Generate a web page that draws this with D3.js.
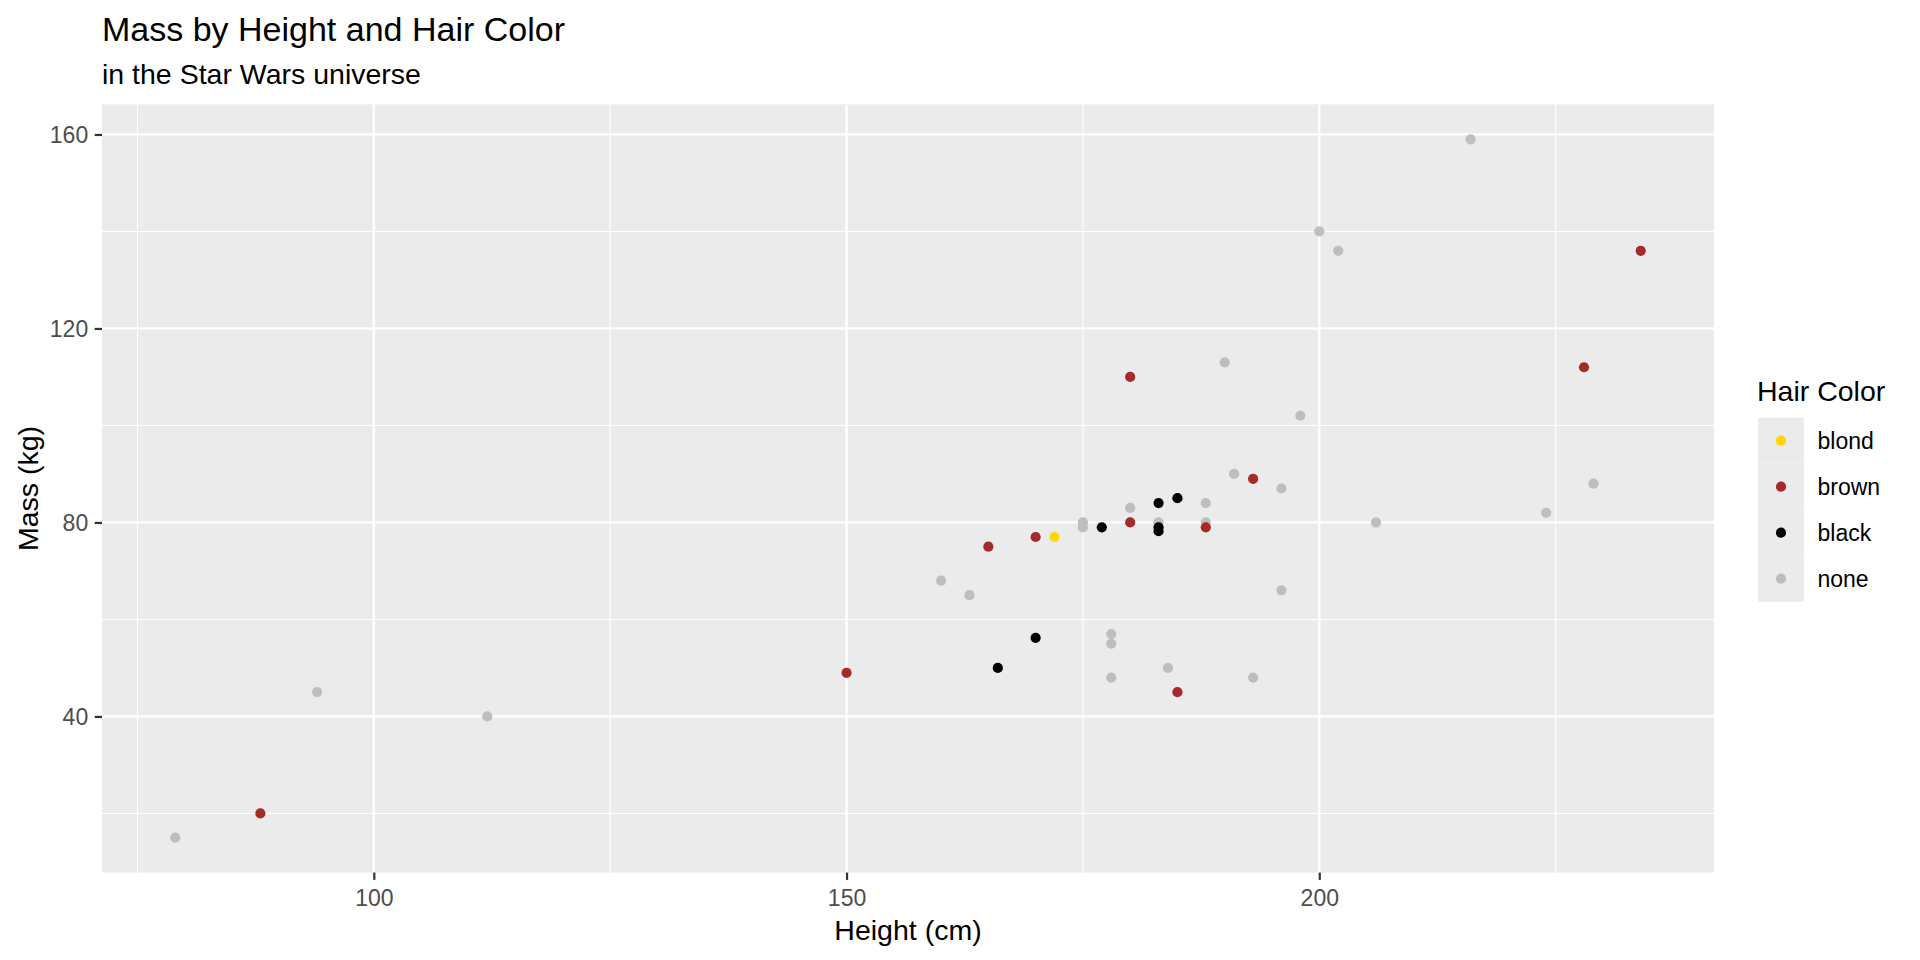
<!DOCTYPE html>
<html><head><meta charset="utf-8">
<script src="https://cdn.jsdelivr.net/npm/d3@7"></script>
<style>
body{margin:0;background:#fff}
text{font-family:"Liberation Sans",Arial,sans-serif}
</style>
</head><body>
<svg id="chart" width="1920" height="960"></svg>
<script>
// ---- data ----
const hairColors = ["blond", "brown", "black", "none"];
const hairFill = ["#FFD700", "#A52A2A", "#000000", "#BEBEBE"];

const blondHeight = [172];
const blondMass   = [77];

const brownHeight = [88, 150, 165, 170, 180, 180, 185, 188, 193, 228, 234];
const brownMass   = [20, 49, 75, 77, 80, 110, 45, 79, 89, 112, 136];

const blackHeight = [166, 170, 177, 183, 183, 183, 185];
const blackMass   = [50, 56.2, 79, 84, 79, 78.2, 85];

const noneHeight = [79, 94, 112, 160, 163, 175, 175, 178, 178, 178, 180, 183, 184, 188, 188, 190, 191, 193, 196, 196, 198, 200, 202, 206, 216, 224, 229];
const noneMass   = [15, 45, 40, 68, 65, 80, 79, 57, 55, 48, 83, 80, 50, 84, 80, 113, 90, 48, 87, 66, 102, 140, 136, 80, 159, 82, 88];

const xTicks = [100, 150, 200];
const yTicks = [40, 80, 120, 160];

const titleText = "Mass by Height and Hair Color";
const subtitleText = "in the Star Wars universe";
const xTitle = "Height (cm)";
const yTitle = "Mass (kg)";
const legendTitle = "Hair Color";

// ---- build table ----
const series = {
  blond: {h: blondHeight, m: blondMass},
  brown: {h: brownHeight, m: brownMass},
  black: {h: blackHeight, m: blackMass},
  none:  {h: noneHeight,  m: noneMass}
};
const drawOrder = ["none", "black", "brown", "blond"];
const points = [];
drawOrder.forEach(k => {
  series[k].h.forEach((h, i) => points.push({hair: k, height: h, mass: series[k].m[i]}));
});

const color = d3.scaleOrdinal().domain(hairColors).range(hairFill);

// ---- layout ----
const P = {left: 102, right: 1714, top: 104.4, bottom: 872.6};
const R = 5.1;
const svg = d3.select("#chart");
svg.append("rect").attr("width", 1920).attr("height", 960).attr("fill", "#fff");

function expand(ext) { const d = (ext[1] - ext[0]) * 0.05; return [ext[0] - d, ext[1] + d]; }
const x = d3.scaleLinear().domain(expand(d3.extent(points, d => d.height))).range([P.left, P.right]);
const y = d3.scaleLinear().domain(expand(d3.extent(points, d => d.mass))).range([P.bottom, P.top]);

function minors(ticks, dom) {
  const step = ticks[1] - ticks[0];
  const out = [];
  for (let v = ticks[0] - step / 2 * Math.ceil((ticks[0] - dom[0]) / (step / 2)); v <= dom[1]; v += step / 2) {
    if (v >= dom[0] && !ticks.includes(v)) out.push(v);
  }
  return out;
}
const xMinor = minors(xTicks, x.domain());
const yMinor = minors(yTicks, y.domain());

// panel
svg.append("rect").attr("x", P.left).attr("y", P.top)
  .attr("width", P.right - P.left).attr("height", P.bottom - P.top).attr("fill", "#EBEBEB");

const grid = svg.append("g");
grid.selectAll(".xmin").data(xMinor).join("line")
  .attr("x1", d => x(d)).attr("x2", d => x(d)).attr("y1", P.top).attr("y2", P.bottom)
  .attr("stroke", "#fff").attr("stroke-width", 1.1);
grid.selectAll(".ymin").data(yMinor).join("line")
  .attr("y1", d => y(d)).attr("y2", d => y(d)).attr("x1", P.left).attr("x2", P.right)
  .attr("stroke", "#fff").attr("stroke-width", 1.1);
grid.selectAll(".xmaj").data(xTicks).join("line")
  .attr("x1", d => x(d)).attr("x2", d => x(d)).attr("y1", P.top).attr("y2", P.bottom)
  .attr("stroke", "#fff").attr("stroke-width", 2.3);
grid.selectAll(".ymaj").data(yTicks).join("line")
  .attr("y1", d => y(d)).attr("y2", d => y(d)).attr("x1", P.left).attr("x2", P.right)
  .attr("stroke", "#fff").attr("stroke-width", 2.3);

// points
svg.append("g").selectAll("circle").data(points).join("circle")
  .attr("cx", d => x(d.height)).attr("cy", d => y(d.mass)).attr("r", R)
  .attr("fill", d => color(d.hair));

// axes
const xAxis = svg.append("g").attr("transform", `translate(0,${P.bottom})`)
  .call(d3.axisBottom(x).tickValues(xTicks).tickSize(7.3).tickPadding(9.8));
const yAxis = svg.append("g").attr("transform", `translate(${P.left},0)`)
  .call(d3.axisLeft(y).tickValues(yTicks).tickSize(7.3).tickPadding(6.5));
[xAxis, yAxis].forEach(a => {
  a.select(".domain").remove();
  a.selectAll(".tick line").attr("stroke", "#333333").attr("stroke-width", 2.2);
  a.selectAll(".tick text").attr("fill", "#4D4D4D").style("font-size", "23px")
    .style("font-family", '"Liberation Sans",Arial,sans-serif');
});
yAxis.selectAll(".tick text").attr("dy", "0.35em");

// titles
svg.append("text").attr("x", 102).attr("y", 40.5).text(titleText)
  .style("font-size", "34px").attr("fill", "#000");
svg.append("text").attr("x", 102).attr("y", 83.5).text(subtitleText)
  .style("font-size", "28.5px").attr("fill", "#000");
svg.append("text").attr("x", (P.left + P.right) / 2).attr("y", 940).attr("text-anchor", "middle")
  .text(xTitle).style("font-size", "28.5px").attr("fill", "#000");
svg.append("text").attr("transform", `translate(37.5,${(P.top + P.bottom) / 2}) rotate(-90)`)
  .attr("text-anchor", "middle").text(yTitle).style("font-size", "28.5px").attr("fill", "#000");

// legend
const L = {x: 1758, y: 417.7, key: 46};
svg.append("text").attr("x", 1757).attr("y", 400.7).text(legendTitle)
  .style("font-size", "28.5px").attr("fill", "#000");
const lg = svg.append("g").selectAll("g").data(hairColors).join("g")
  .attr("transform", (d, i) => `translate(${L.x},${L.y + i * L.key})`);
lg.append("rect").attr("width", L.key).attr("height", L.key).attr("fill", "#EBEBEB");
lg.append("circle").attr("cx", L.key / 2).attr("cy", L.key / 2).attr("r", R).attr("fill", d => color(d));
lg.append("text").attr("x", 59.5).attr("y", L.key / 2).attr("dy", "0.35em").text(d => d)
  .style("font-size", "23px").attr("fill", "#000");
</script>
</body></html>
